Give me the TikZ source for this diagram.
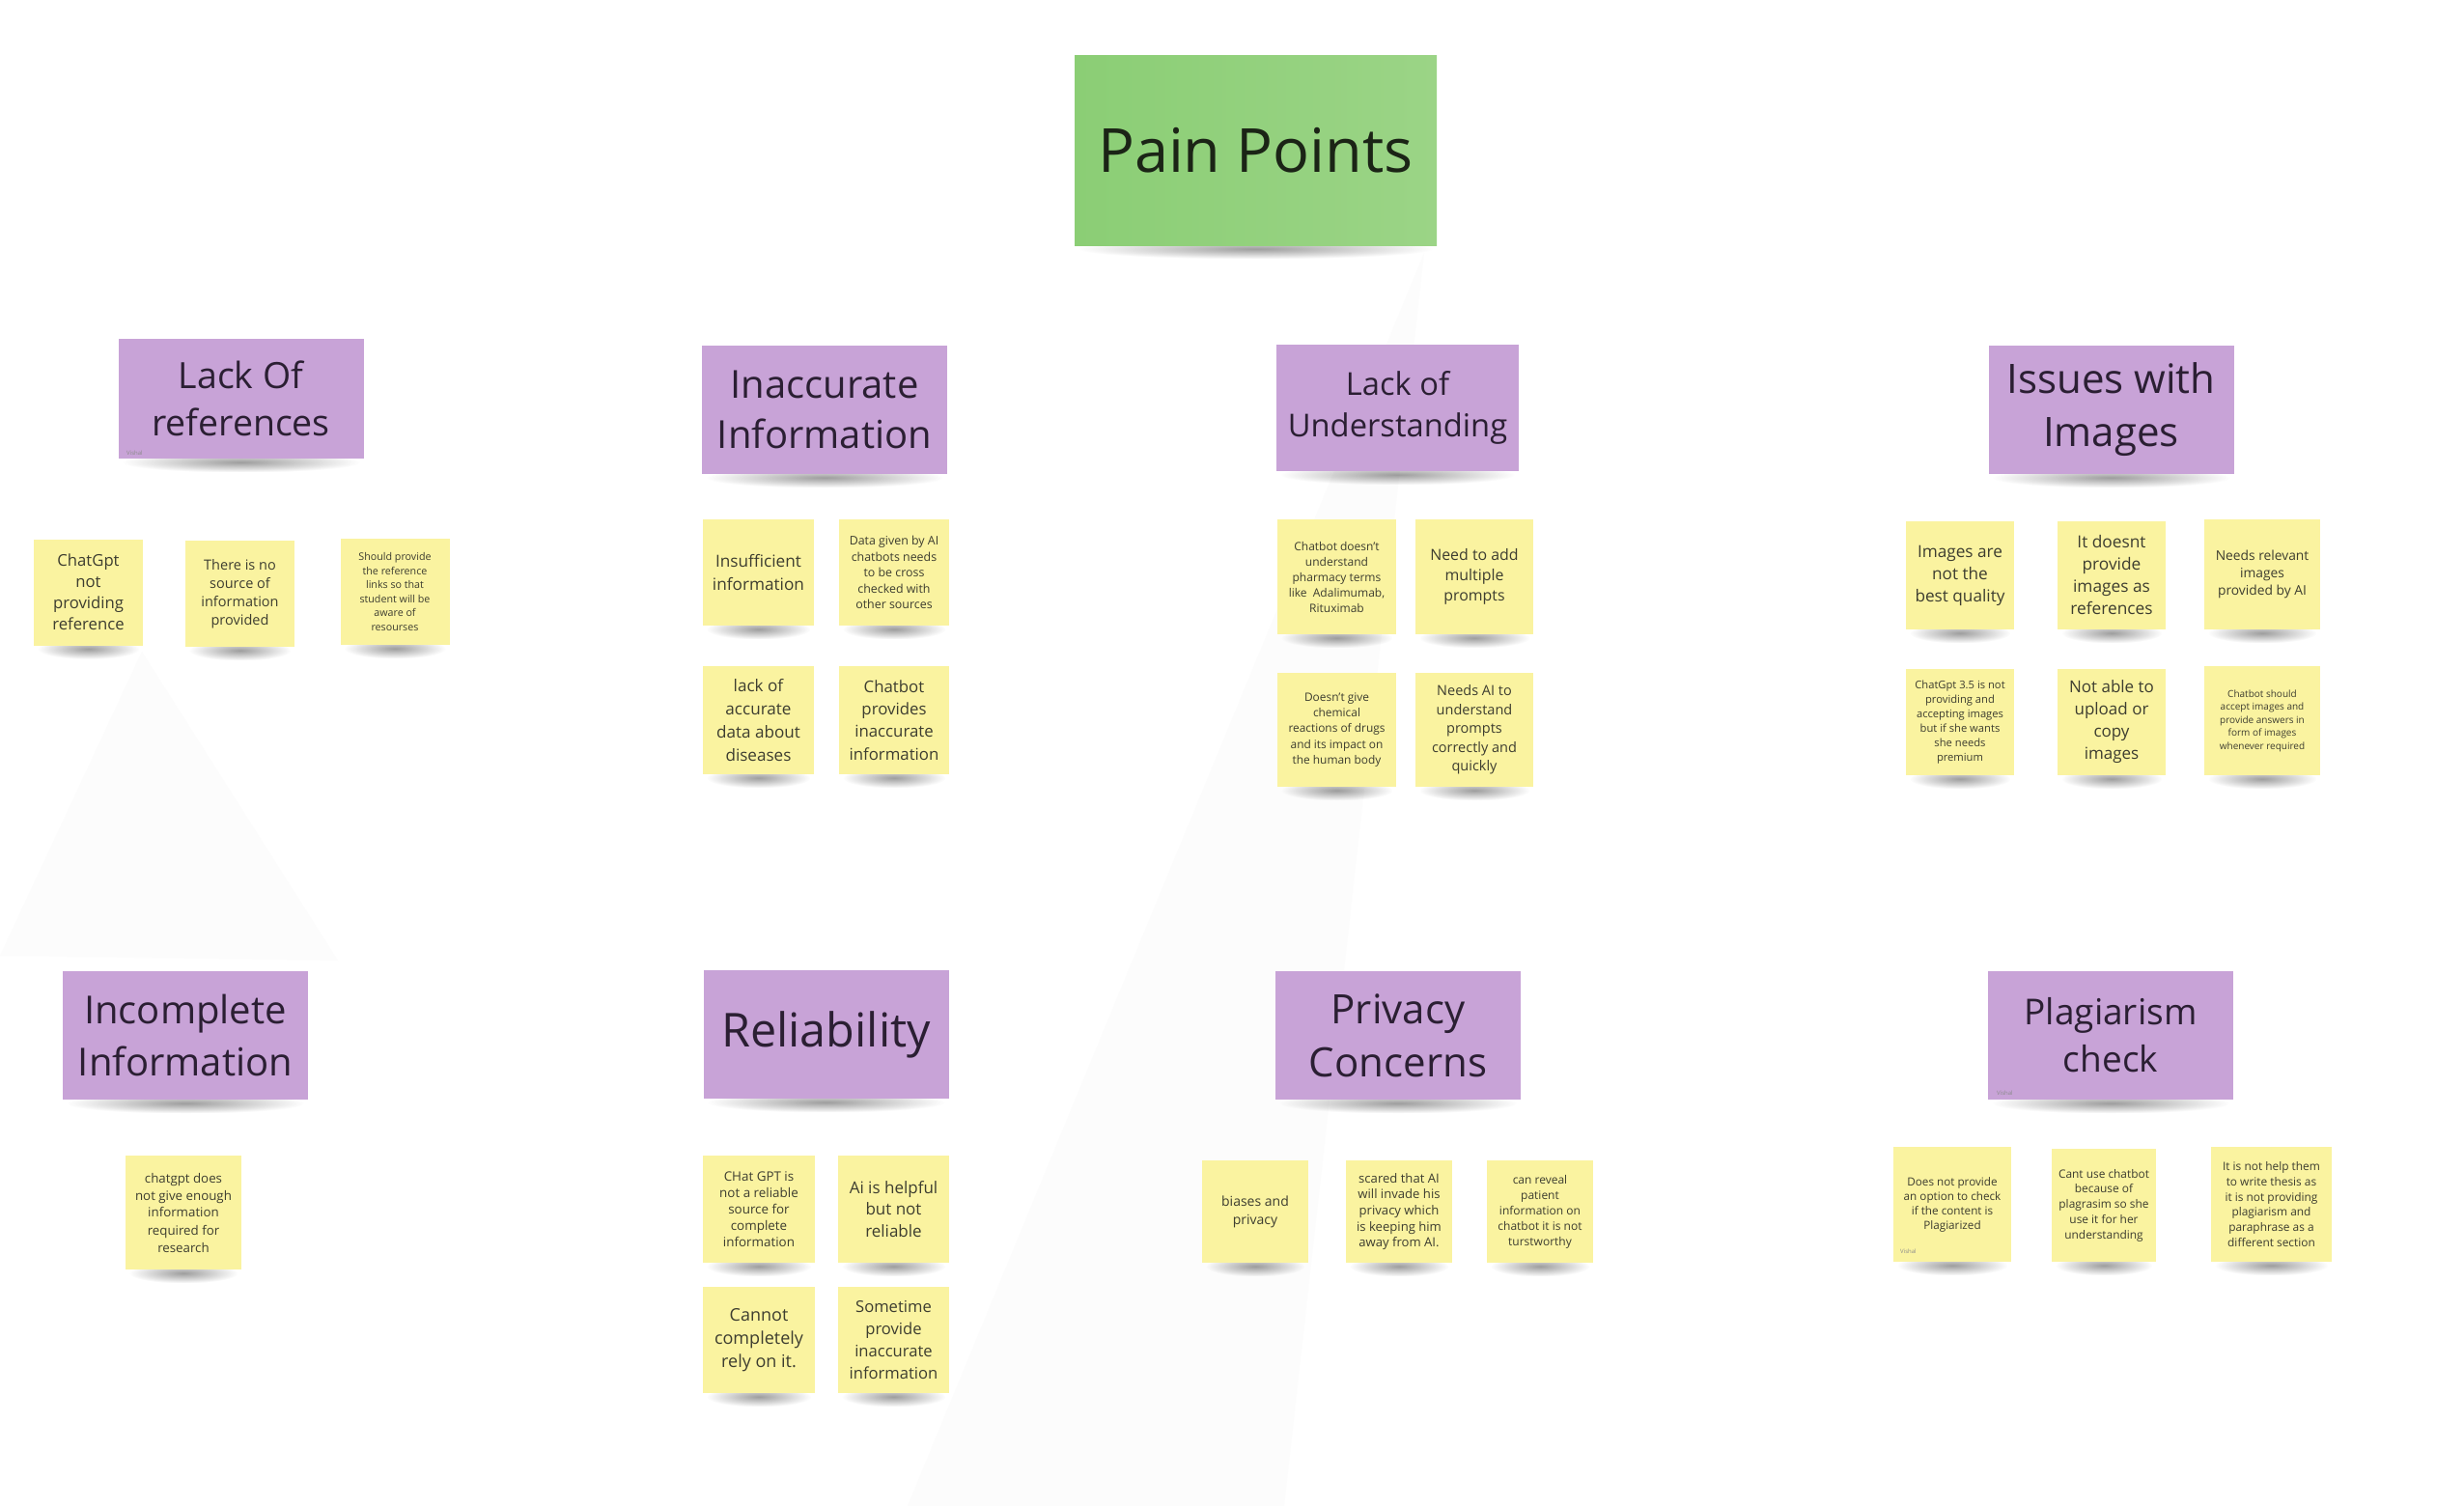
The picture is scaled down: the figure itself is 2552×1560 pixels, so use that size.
\documentclass[tikz,border=0pt]{standalone}
\usepackage{fontspec}
\setmainfont{Open Sans}
\usetikzlibrary{calc, fadings, backgrounds}

\definecolor{noteyellow}{HTML}{FAF3A0}
\definecolor{headpurple}{HTML}{C8A3D7}
\definecolor{titlegreen}{HTML}{8BCE75}
\definecolor{titlegreenlt}{HTML}{9BD486}
\definecolor{notetext}{HTML}{3D3D30}
\definecolor{headtext}{HTML}{2B1F33}
\definecolor{titletext}{HTML}{1B2416}

\tikzfading[name=shadowfade, inner color=transparent!15, outer color=transparent!100]

\newcommand{\fs}[2]{\fontsize{#1}{#2}\selectfont}
% sticky note with a soft shadow under its lower edge
\newcommand{\sticky}[4][]{%
  \node[note, #1] (#2) at (#3) {#4};
  \begin{pgfonlayer}{background}
    \fill[black, opacity=.45, path fading=shadowfade]
      ($(#2.south west)+(4,14)$) rectangle ($(#2.south east)+(-4,-7)$);
  \end{pgfonlayer}}

\tikzset{
  note/.style={rectangle, fill=noteyellow, text=notetext, align=center,
    inner sep=2pt, minimum width=113, minimum height=110},
  header/.style={note, fill=headpurple, text=headtext,
    minimum width=254, minimum height=133},
  sign/.style={font=\fs{6}{7}, text=black!45, inner sep=0pt, anchor=south west},
}

\begin{document}
\begin{tikzpicture}[x=1pt, y=-1pt]
  \useasboundingbox (0,0) rectangle (2552,1560);
  \begin{pgfonlayer}{background}
    \fill[white] (0,0) rectangle (2552,1560);
    \fill[black!1] (147,675) -- (0,990) -- (350,995) -- cycle;
    \fill[black!1] (1475,262) -- (940,1560) -- (1330,1560) -- cycle;
  \end{pgfonlayer}

  % title
  \sticky[left color=titlegreen, right color=titlegreenlt, text=titletext,
    minimum width=375, minimum height=196, font=\fs{63}{76}]{title}{1300.5,156}{Pain Points}

  % headers
  \sticky[header, minimum height=124, font=\fs{37.5}{49}]{refs}{249.5,413}{Lack Of\\references}
  \sticky[header, font=\fs{40}{52}]{inacc}{854,424.5}{Inaccurate\\Information}
  \sticky[header, minimum width=251, minimum height=131, font=\fs{32.7}{43}]{under}{1447.5,422.5}{Lack of\\Understanding}
  \sticky[header, font=\fs{42}{55}]{images}{2186.5,424.5}{Issues with\\Images}
  \sticky[header, font=\fs{40}{54}]{incompl}{192,1072.5}{Incomplete\\Information}
  \sticky[header, font=\fs{48.5}{58}]{reliab}{855.5,1071.5}{Reliability}
  \sticky[header, font=\fs{42}{55}]{privacy}{1448,1072.5}{Privacy\\Concerns}
  \sticky[header, font=\fs{37}{49}]{plagia}{2186,1072.5}{Plagiarism\\check}
  \node[sign] (signrefs) at (131,472) {Vishal};
  \node[sign] (signplag) at (2068,1135) {Vishal};

  % lack of references
  \sticky[font=\fs{16.7}{22}]{ref1}{91.5,613.5}{ChatGpt\\not\\providing\\reference}
  \sticky[font=\fs{14.5}{19}]{ref2}{248.5,615}{There is no\\source of\\information\\provided}
  \sticky[font=\fs{10.7}{14.6}]{ref3}{409,613}{Should provide\\the reference\\links so that\\student will be\\aware of\\resourses}

  % inaccurate information
  \sticky[minimum width=115, font=\fs{17.2}{24}]{ina1}{785.5,593}{Insufficient\\information}
  \sticky[minimum width=114, font=\fs{12.4}{16.5}]{ina2}{926,593}{Data given by AI\\chatbots needs\\to be cross\\checked with\\other sources}
  \sticky[minimum width=115, minimum height=112, font=\fs{17.1}{24}]{ina3}{785.5,746}{lack of\\accurate\\data about\\diseases}
  \sticky[minimum width=114, minimum height=112, font=\fs{16.8}{23.3}]{ina4}{926,746}{Chatbot\\provides\\inaccurate\\information}

  % lack of understanding
  \sticky[minimum width=123, minimum height=119, font=\fs{12}{16}]{und1}{1384.5,597.5}{Chatbot doesn't\\understand\\pharmacy terms\\like~~Adalimumab,\\Rituximab}
  \sticky[minimum width=122, minimum height=119, font=\fs{15.9}{21}]{und2}{1527,597.5}{Need to add\\multiple\\prompts}
  \sticky[minimum width=123, minimum height=118, font=\fs{11.9}{16.3}]{und3}{1384.5,756}{Doesn't give\\chemical\\reactions of drugs\\and its impact on\\the human body}
  \sticky[minimum width=122, minimum height=118, font=\fs{14.5}{19.5}]{und4}{1527,756}{Needs AI to\\understand\\prompts\\correctly and\\quickly}

  % issues with images
  \sticky[minimum width=112, minimum height=112, font=\fs{17.2}{23}]{img1}{2030,596}{Images are\\not the\\best quality}
  \sticky[minimum width=112, minimum height=112, font=\fs{17.3}{23}]{img2}{2187,596}{It doesnt\\provide\\images as\\references}
  \sticky[minimum width=120, minimum height=114, font=\fs{13.8}{18}]{img3}{2343,595}{Needs relevant\\images\\provided by AI}
  \sticky[minimum width=112, font=\fs{11.2}{15}]{img4}{2030,748}{ChatGpt 3.5 is not\\providing and\\accepting images\\but if she wants\\she needs\\premium}
  \sticky[minimum width=112, font=\fs{17}{23}]{img5}{2187,748}{Not able to\\upload or\\copy\\images}
  \sticky[minimum width=120, minimum height=113, font=\fs{10}{13.5}]{img6}{2343,746.5}{Chatbot should\\accept images and\\provide answers in\\form of images\\whenever required}

  % incomplete information
  \sticky[minimum width=120, minimum height=118, font=\fs{13.3}{18}]{inc1}{190,1256}{chatgpt does\\not give enough\\information\\required for\\research}

  % reliability
  \sticky[minimum width=116, minimum height=111, font=\fs{13.4}{17}]{rel1}{786,1252.5}{CHat GPT is\\not a reliable\\source for\\complete\\information}
  \sticky[minimum width=115, minimum height=111, font=\fs{17}{22.5}]{rel2}{925.5,1252.5}{Ai is helpful\\but not\\reliable}
  \sticky[minimum width=116, font=\fs{18}{24}]{rel3}{786,1388}{Cannot\\completely\\rely on it.}
  \sticky[minimum width=115, font=\fs{16.6}{23}]{rel4}{925.5,1388}{Sometime\\provide\\inaccurate\\information}

  % privacy concerns
  \sticky[minimum width=110, minimum height=106, font=\fs{14}{19}]{pri1}{1300,1255}{biases and\\privacy}
  \sticky[minimum width=110, minimum height=106, font=\fs{13.1}{16.7}]{pri2}{1449,1255}{scared that AI\\will invade his\\privacy which\\is keeping him\\away from AI.}
  \sticky[minimum width=110, minimum height=106, font=\fs{12}{16}]{pri3}{1595,1255}{can reveal\\patient\\information on\\chatbot it is not\\turstworthy}

  % plagiarism check
  \sticky[minimum width=122, minimum height=119, font=\fs{11.7}{15}]{pla1}{2022,1247.5}{Does not provide\\an option to check\\if the content is\\Plagiarized}
  \sticky[minimum width=108, minimum height=117, font=\fs{11.9}{15.7}]{pla2}{2179,1248.5}{Cant use chatbot\\because of\\plagrasim so she\\use it for her\\understanding}
  \sticky[minimum width=125, minimum height=119, font=\fs{11.9}{15.7}]{pla3}{2352.5,1247.5}{It is not help them\\to write thesis as\\it is not providing\\plagiarism and\\paraphrase as a\\different section}
  \node[sign] (signpla1) at (1968,1299) {Vishal};
\end{tikzpicture}
\end{document}
